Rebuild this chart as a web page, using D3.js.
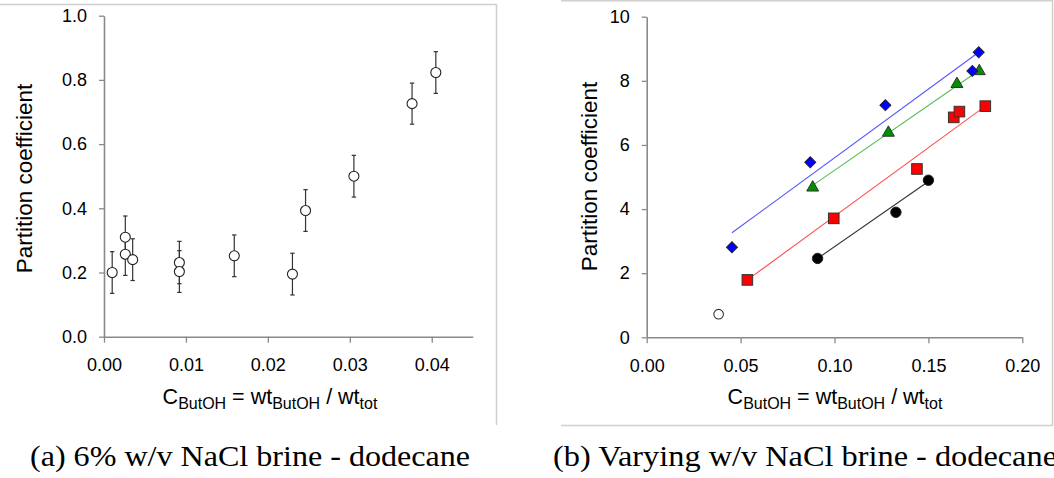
<!DOCTYPE html>
<html><head><meta charset="utf-8">
<script src="https://cdn.jsdelivr.net/npm/d3@7"></script>
<style>
html,body{margin:0;padding:0;background:#fff;}
svg{display:block;}
text{font-family:"Liberation Sans",Arial,sans-serif;fill:#000;}
.cap{font-family:"Liberation Serif","Times New Roman",serif;}
</style></head>
<body>
<svg id="chart" width="1054" height="478"></svg>
<script>
// ---------- Panel (a) data ----------
const leftX   = [0.0010, 0.0026, 0.0026, 0.0035, 0.0092, 0.0092, 0.0159, 0.0230, 0.0246, 0.0305, 0.0376, 0.0405];
const leftY   = [0.200, 0.310, 0.257, 0.240, 0.231, 0.203, 0.252, 0.195, 0.393, 0.500, 0.726, 0.823];
const leftErr = [0.065, 0.066, 0.066, 0.065, 0.066, 0.065, 0.065, 0.065, 0.065, 0.065, 0.064, 0.065];
const leftXTicks = [0, 0.01, 0.02, 0.03, 0.04];
const leftYTicks = [0, 0.2, 0.4, 0.6, 0.8, 1.0];

// ---------- Panel (b) data ----------
const blueX  = [0.0454, 0.0871, 0.1271, 0.1734, 0.1768];
const blueY  = [2.81, 5.46, 7.24, 8.31, 8.89];
const greenX = [0.0884, 0.1287, 0.1652, 0.1771];
const greenY = [4.67, 6.38, 7.90, 8.30];
const redX   = [0.0536, 0.0996, 0.1439, 0.1635, 0.1665, 0.1803];
const redY   = [1.79, 3.71, 5.25, 6.86, 7.04, 7.21];
const blackX = [0.0910, 0.1327, 0.1500];
const blackY = [2.46, 3.90, 4.90];
const openX  = [0.0383];
const openY  = [0.72];
// fitted trend lines (end points)
const blueFitX  = [0.0454, 0.1768], blueFitY  = [3.26, 8.89];
const greenFitX = [0.0884, 0.1771], greenFitY = [4.74, 8.33];
const redFitX   = [0.0536, 0.1803], redFitY   = [1.79, 7.21];
const blackFitX = [0.0910, 0.1500], blackFitY = [2.46, 4.86];
const rightXTicks = [0, 0.05, 0.10, 0.15, 0.20];
const rightYTicks = [0, 2, 4, 6, 8, 10];

const captionA = "(a) 6% w/v NaCl brine - dodecane";
const captionB = "(b) Varying w/v NaCl brine - dodecane";
const yTitle = "Partition coefficient";

const svg = d3.select("#chart");
const AX = "#8a8a8a";

// panel frames
const frame = svg.append("g").attr("stroke", "#cfcfcf").attr("stroke-width", 1.5).attr("fill", "none");
frame.append("path").attr("d", "M0,4.5H496.5V425");
frame.append("path").attr("d", "M561,0.75H1052.5V425.5H561");

function styleAxis(g) {
  g.select(".domain").attr("stroke", AX).attr("stroke-width", 1.6);
  g.selectAll(".tick line").attr("stroke", AX).attr("stroke-width", 1.3);
  g.selectAll(".tick text").attr("font-size", 18).attr("fill", "#000")
   .attr("font-family", '"Liberation Sans",Arial,sans-serif');
}

function xTitle(g, cx, y) {
  const t = g.append("text").attr("x", cx).attr("y", y).attr("text-anchor", "middle").attr("font-size", 21.5);
  t.append("tspan").text("C");
  t.append("tspan").attr("font-size", 16).attr("dy", 5).text("ButOH");
  t.append("tspan").attr("dy", -5).text(" = wt");
  t.append("tspan").attr("font-size", 16).attr("dy", 5).text("ButOH");
  t.append("tspan").attr("dy", -5).text(" / wt");
  t.append("tspan").attr("font-size", 16).attr("dy", 5).text("tot");
}

function yTitleText(g, x, cy) {
  g.append("text").attr("transform", `translate(${x},${cy}) rotate(-90)`)
    .attr("text-anchor", "middle").attr("font-size", 22.5).text(yTitle);
}

// ================= Panel (a) =================
const xa = d3.scaleLinear().domain([0, 0.045]).range([104, 472.7]);
const ya = d3.scaleLinear().domain([0, 1.0]).range([336.7, 15.7]);
const ga = svg.append("g");

ga.append("g").attr("transform", `translate(0,${ya(0)})`)
  .call(d3.axisBottom(xa).tickValues(leftXTicks).tickFormat(d3.format(".2f")).tickSize(6).tickSizeOuter(0).tickPadding(16))
  .call(styleAxis);
ga.append("g").attr("transform", `translate(${xa(0)},0)`)
  .call(d3.axisLeft(ya).tickValues(leftYTicks).tickFormat(d3.format(".1f")).tickSize(5).tickSizeOuter(0).tickPadding(12))
  .call(styleAxis);

const pa = leftX.map((x, i) => ({x, y: leftY[i], e: leftErr[i]}));
const eb = ga.append("g").attr("stroke", "#333").attr("stroke-width", 1.2).attr("fill", "none");
pa.forEach(d => {
  eb.append("line").attr("x1", xa(d.x)).attr("x2", xa(d.x)).attr("y1", ya(d.y - d.e)).attr("y2", ya(d.y + d.e));
  eb.append("line").attr("x1", xa(d.x) - 2.2).attr("x2", xa(d.x) + 2.2).attr("y1", ya(d.y - d.e)).attr("y2", ya(d.y - d.e));
  eb.append("line").attr("x1", xa(d.x) - 2.2).attr("x2", xa(d.x) + 2.2).attr("y1", ya(d.y + d.e)).attr("y2", ya(d.y + d.e));
});
ga.append("g").selectAll("circle").data(pa).join("circle")
  .attr("cx", d => xa(d.x)).attr("cy", d => ya(d.y)).attr("r", 5)
  .attr("fill", "#fff").attr("stroke", "#222").attr("stroke-width", 1.1);

xTitle(ga, 270, 403.5);
yTitleText(ga, 31.5, 178.5);

// ================= Panel (b) =================
const xb = d3.scaleLinear().domain([0, 0.20]).range([646.7, 1022.3]);
const yb = d3.scaleLinear().domain([0, 10]).range([337.3, 16.7]);
const gb = svg.append("g");

gb.append("g").attr("transform", `translate(0,${yb(0)})`)
  .call(d3.axisBottom(xb).tickValues(rightXTicks).tickFormat(d3.format(".2f")).tickSize(6).tickSizeOuter(0).tickPadding(16))
  .call(styleAxis);
gb.append("g").attr("transform", `translate(${xb(0)},0)`)
  .call(d3.axisLeft(yb).tickValues(rightYTicks).tickFormat(d3.format("d")).tickSize(5).tickSizeOuter(0).tickPadding(12))
  .call(styleAxis);

const line = d3.line().x(d => xb(d[0])).y(d => yb(d[1]));
const fits = [
  {x: blueFitX, y: blueFitY, c: "#5555ff"},
  {x: greenFitX, y: greenFitY, c: "#55bb55"},
  {x: redFitX, y: redFitY, c: "#ff5050"},
  {x: blackFitX, y: blackFitY, c: "#333333"}
];
fits.forEach(f => {
  gb.append("path").attr("d", line(f.x.map((x, i) => [x, f.y[i]])))
    .attr("fill", "none").attr("stroke", f.c).attr("stroke-width", 1.1);
});

const zip = (xs, ys) => xs.map((x, i) => ({x, y: ys[i]}));
// open circle
gb.append("g").selectAll("circle").data(zip(openX, openY)).join("circle")
  .attr("cx", d => xb(d.x)).attr("cy", d => yb(d.y)).attr("r", 4.8)
  .attr("fill", "#fff").attr("stroke", "#333").attr("stroke-width", 1.1);
// black circles
gb.append("g").selectAll("circle").data(zip(blackX, blackY)).join("circle")
  .attr("cx", d => xb(d.x)).attr("cy", d => yb(d.y)).attr("r", 5.2)
  .attr("fill", "#000").attr("stroke", "#222").attr("stroke-width", 1);
// red squares
gb.append("g").selectAll("rect").data(zip(redX, redY)).join("rect")
  .attr("x", d => xb(d.x) - 5.3).attr("y", d => yb(d.y) - 5.3).attr("width", 10.6).attr("height", 10.6)
  .attr("fill", "#ff0000").attr("stroke", "#333").attr("stroke-width", 1);
// green triangles
gb.append("g").selectAll("path").data(zip(greenX, greenY)).join("path")
  .attr("transform", d => `translate(${xb(d.x)},${yb(d.y)})`)
  .attr("d", d3.symbol(d3.symbolTriangle, 62))
  .attr("fill", "#009000").attr("stroke", "#333").attr("stroke-width", 1);
// blue diamonds
gb.append("g").selectAll("path").data(zip(blueX, blueY)).join("path")
  .attr("transform", d => `translate(${xb(d.x)},${yb(d.y)}) rotate(45)`)
  .attr("d", d3.symbol(d3.symbolSquare, 60))
  .attr("fill", "#0000ff").attr("stroke", "#222").attr("stroke-width", 1);

xTitle(gb, 835, 403.5);
yTitleText(gb, 597, 176.5);

// captions
svg.append("text").attr("class", "cap").attr("x", 250).attr("y", 466).attr("text-anchor", "middle")
  .attr("font-size", 29).attr("textLength", 440).attr("lengthAdjust", "spacingAndGlyphs").text(captionA);
svg.append("text").attr("class", "cap").attr("x", 553).attr("y", 466)
  .attr("font-size", 29).attr("textLength", 504).attr("lengthAdjust", "spacingAndGlyphs").text(captionB);
</script>
</body></html>
